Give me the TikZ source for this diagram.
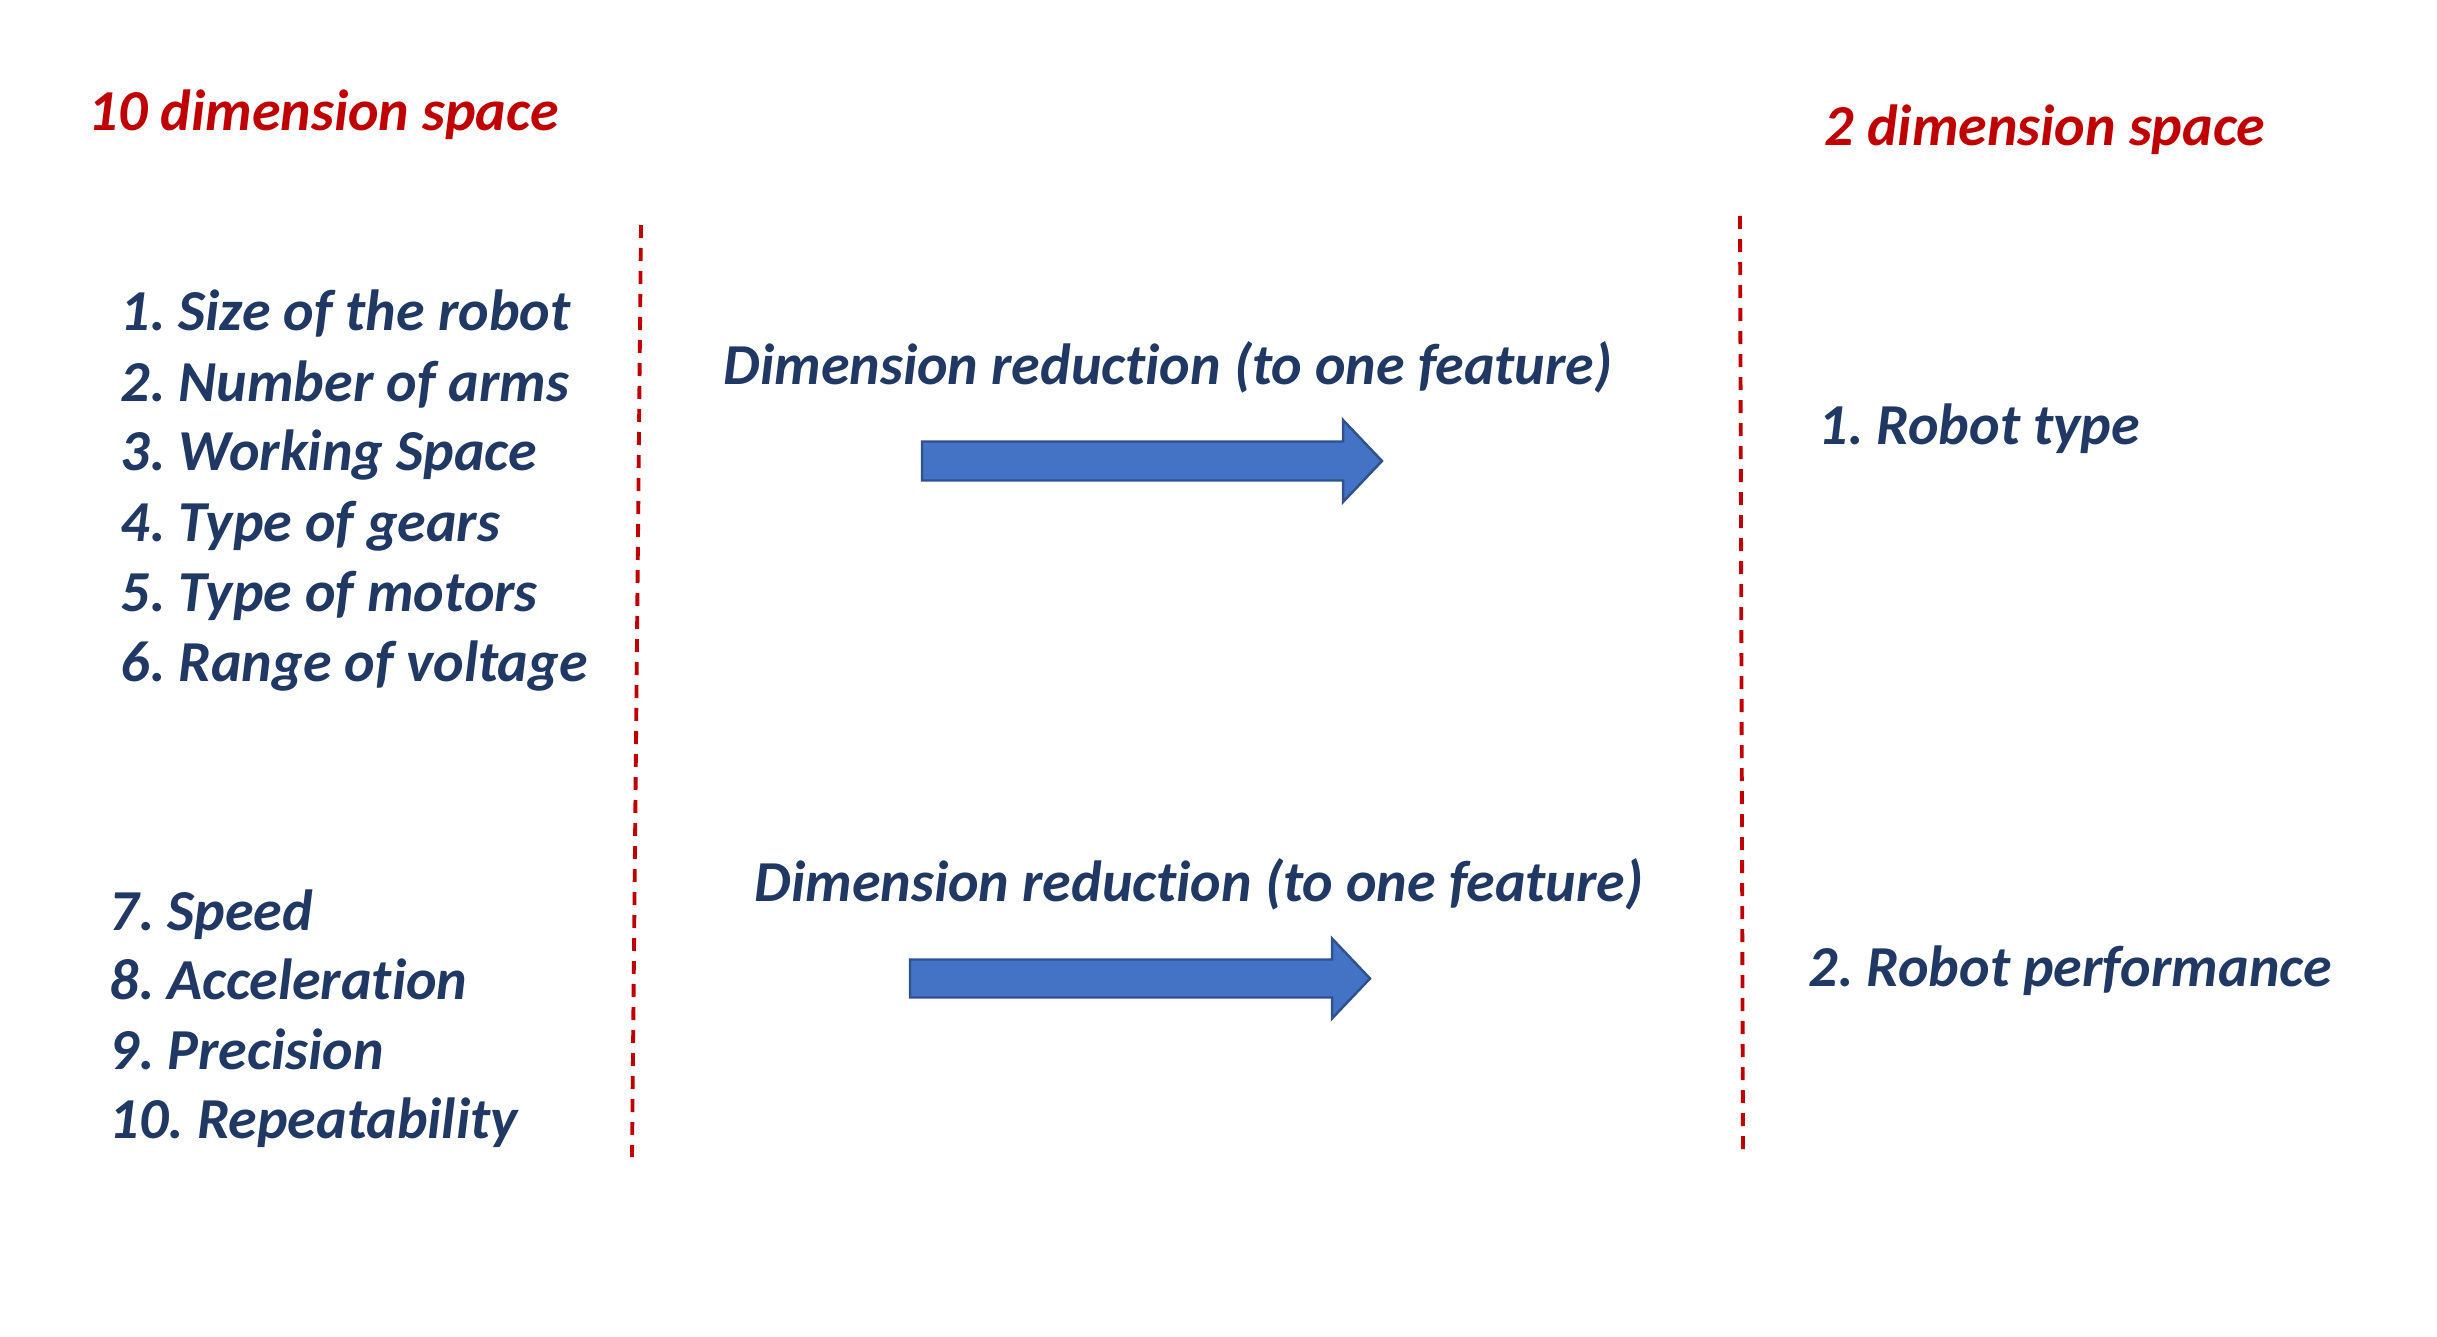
\documentclass[tikz,border=0pt]{standalone}
\usepackage{fontspec}
\setmainfont[Ligatures=NoCommon]{Carlito}
\usepackage{xcolor}
\usepackage{tikz}
\usetikzlibrary{positioning,calc}

\definecolor{navytext}{HTML}{203864}
\definecolor{darkred}{HTML}{C00000}
\definecolor{arrowfill}{HTML}{4472C4}
\definecolor{arrowedge}{HTML}{2F528F}
\frenchspacing

\begin{document}
\begin{tikzpicture}[
    heading/.style={anchor=base west, inner sep=0pt, text=darkred, font=\fontsize{16.5}{19.8}\selectfont\bfseries\itshape},
    feature/.style={anchor=base west, inner sep=0pt, text=navytext, font=\fontsize{16.5}{19.8}\selectfont\bfseries\itshape},
    divider/.style={darkred, line width=1.1pt, dash pattern=on 0.13cm off 0.10cm},
    blockarrow/.style={fill=arrowfill, draw=arrowedge, line width=0.7pt, line join=miter}
]
\useasboundingbox (0,0) rectangle (24.37,-13.37);
% headings
\node[heading] (dimten) at (0.88,-1.31) {10 dimension space};
\node[heading] (dimtwo) at (18.24,-1.46) {2 dimension space};
% first group of features
\node[feature] (f1) at (1.20,-3.31) {1. Size of the robot};
\node[feature, below=0.70cm of f1.base west, anchor=base west] (f2) {2. Number of arms};
\node[feature, below=0.70cm of f2.base west, anchor=base west] (f3) {3. Working Space};
\node[feature, below=0.70cm of f3.base west, anchor=base west] (f4) {4. Type of gears};
\node[feature, below=0.70cm of f4.base west, anchor=base west] (f5) {5. Type of motors};
\node[feature, below=0.70cm of f5.base west, anchor=base west] (f6) {6. Range of voltage};
% second group of features
\node[feature] (f7) at (1.09,-9.30) {7. Speed};
\node[feature, below=0.695cm of f7.base west, anchor=base west] (f8) {8. Acceleration};
\node[feature, below=0.695cm of f8.base west, anchor=base west] (f9) {9. Precision};
\node[feature, below=0.695cm of f9.base west, anchor=base west] (f10) {10. Repeatability};
% reduction labels and arrows
\node[feature] (red1) at (7.23,-3.85) {Dimension reduction (to one feature)};
\node[feature] (red2) at (7.54,-9.01) {Dimension reduction (to one feature)};
\coordinate (arr1) at (9.22,-4.61);
\coordinate (arr2) at (9.10,-9.785);
\draw[blockarrow] (arr1) ++(0,0.195) -- ++(4.21,0) -- ++(0,0.215) -- ++(0.39,-0.41)
    -- ++(-0.39,-0.41) -- ++(0,0.215) -- ++(-4.21,0) -- cycle;
\draw[blockarrow] (arr2) ++(0,0.19) -- ++(4.22,0) -- ++(0,0.21) -- ++(0.38,-0.40)
    -- ++(-0.38,-0.40) -- ++(0,0.21) -- ++(-4.22,0) -- cycle;
% reduced features
\node[feature] (out1) at (18.18,-4.44) {1. Robot type};
\node[feature] (out2) at (18.08,-9.86) {2. Robot performance};
% dividers
\coordinate (lefttop) at (6.41,-2.25);
\coordinate (leftbot) at (6.32,-11.57);
\coordinate (righttop) at (17.40,-2.16);
\coordinate (rightbot) at (17.43,-11.57);
\draw[divider] (lefttop) -- (leftbot);
\draw[divider] (righttop) -- (rightbot);
\end{tikzpicture}
\end{document}
